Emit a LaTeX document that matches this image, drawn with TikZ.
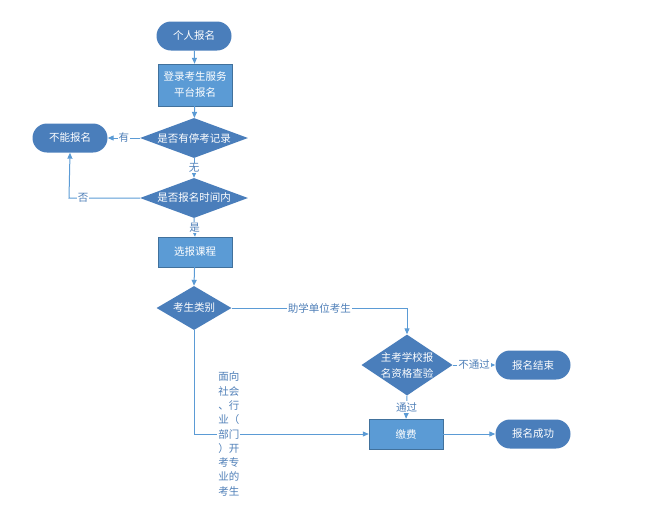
\documentclass[tikz,border=0pt]{standalone}
\usepackage{fontspec}
\setmainfont{Noto Sans CJK SC}
\usetikzlibrary{shapes.geometric,shapes.misc,arrows.meta}
\definecolor{nodedark}{HTML}{4A7EBB}
\definecolor{nodelight}{HTML}{5B9BD5}
\definecolor{nodeborder}{HTML}{41719C}
\definecolor{linecol}{HTML}{5B9BD5}
\definecolor{labcol}{HTML}{4F7FB8}
\tikzset{
  base/.style={font=\fontsize{10.5}{16}\selectfont, text=white, inner sep=0pt},
  term/.style={base, rounded rectangle, fill=nodedark, minimum width=75pt, minimum height=29pt},
  procbox/.style={base, rectangle, fill=nodelight, draw=nodeborder, line width=0.4pt, minimum width=74pt, align=center},
  decide/.style={base, diamond, fill=nodedark, align=center},
  conn/.style={draw=linecol, line width=1pt, -{Triangle[length=6pt,width=5pt]}},
  lab/.style={font=\fontsize{10.5}{12}\selectfont, text=labcol, fill=white, inner sep=1pt}
}
\begin{document}
\begin{tikzpicture}[x=1pt,y=-1pt]
\useasboundingbox (0,0) rectangle (661,509);
\node[term] (start) at (194,36) {个人报名};
\node[procbox, minimum height=42pt] (login) at (195,85) {登录考生服务\\平台报名};
\node[decide, minimum width=108pt, minimum height=40pt, aspect=2.7] (d1) at (194,138) {是否有停考记录};
\node[term] (no) at (70,138) {不能报名};
\node[decide, minimum width=108pt, minimum height=40pt, aspect=2.7] (d2) at (194,198) {是否报名时间内};
\node[procbox, minimum height=30pt] (course) at (195,252) {选报课程};
\node[decide, minimum width=75pt, minimum height=44pt, aspect=1.7] (d3) at (194,308) {考生类别};
\node[decide, minimum width=90pt, minimum height=61pt, aspect=1.5] (d4) at (407,365) {主考学校报\\名资格查验};
\node[term] (endn) at (533,365) {报名结束};
\node[procbox, minimum height=30pt] (pay) at (406,434) {缴费};
\node[term] (ok) at (533,434) {报名成功};
\coordinate (c1) at (69,198);
\coordinate (c2) at (407,308);
\coordinate (c3) at (194,434);

\draw[conn] (start) -- (login);
\draw[conn] (login) -- (d1);
\draw[conn] (d1.west) -- node[lab] {有} (no.east);
\draw[conn] (d1.south) -- node[lab] {无} (d2.north);
\draw[conn] (d2.west) -- node[lab, pos=0.8] {否} (c1) -- (no.south);
\draw[conn] (d2.south) -- node[lab, pos=0.5] {是} (course.north);
\draw[conn] (course) -- (d3.north);
\draw[conn] (d3.east) -- node[lab] {助学单位考生} (c2) -- (d4.north);
\draw[conn] (d4.east) -- node[lab] {不通过} (endn.west);
\draw[conn] (d4.south) -- node[lab] {通过} (pay.north);
\draw[conn] (d3.south) -- (c3) -- node[lab, pos=0.2, align=left, font=\fontsize{10.5}{14.3}\selectfont] {面向\\社会\\、行\\业（\\部门\\）开\\考专\\业的\\考生} (pay.west);
\draw[conn] (pay.east) -- (ok.west);
\end{tikzpicture}
\end{document}
